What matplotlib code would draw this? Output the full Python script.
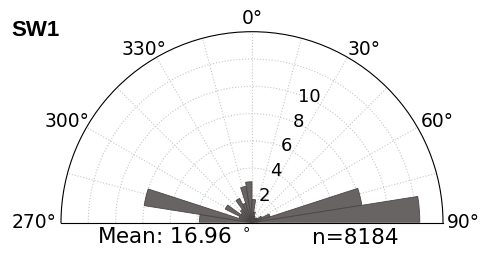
import numpy as np
import matplotlib
matplotlib.use("Agg")
import matplotlib.pyplot as plt

# rose diagram, 9 degree bins (start angle, compass degrees)
bin_start = [270, 279, 288, 297, 306, 315, 324, 333, 342, 351,
             0, 9, 18, 27, 36, 45, 54, 63, 72, 81]
counts = [3.85, 8.0, 1.0, 2.2, 1.0, 1.2, 2.0, 1.5, 2.7, 3.0,
          1.7, 0.8, 0.5, 0.4, 0.4, 0.5, 0.8, 1.4, 8.15, 12.3]
bin_width = 9
r_ticks = [2, 4, 6, 8, 10, 12]
r_labels = ['2', '4', '6', '8', '10']
theta_grid = [270, 285, 300, 315, 330, 345, 0, 15, 30, 45, 60, 75, 90]
theta_lbl = ['0°', '30°', '60°', '90°', '330°', '300°', '270°']
# where each label sits (angle, radius) just outside the rim
lbl_ang = [0, 33, 61.4, 90, -32, -61.4, -90]
lbl_r = [14.95, 15.1, 15.45, 15.5, 14.95, 15.45, 16.0]
title = "SW1"
mean_txt = "Mean: 16.96 $^\\circ$"
n_txt = "n=8184"

fig = plt.figure(figsize=(4.83, 2.58), dpi=100)
# half disc sits in a square box, centre at 1/4 height
R = 191
cx, cy = 252, 258 - 222.7
ax = fig.add_axes([(cx - R)/483, (cy - 0.5*R)/258, 2*R/483, 2*R/258],
                  projection='polar')
ax.set_theta_zero_location('N')
ax.set_theta_direction(-1)
ax.set_thetamin(-90)
ax.set_thetamax(90)

theta = np.deg2rad(bin_start)
ax.bar(theta, counts, width=np.deg2rad(bin_width), align='edge',
       color='#696464', edgecolor='#4a4646', linewidth=0.6, zorder=3)

ax.set_ylim(0, 14)
ax.set_rgrids(r_ticks, [''] * len(r_ticks))
for v, s in zip(r_ticks, r_labels):
    ax.text(np.deg2rad(24.5), v + 0.15, s, fontsize=13, ha='center',
            va='center', zorder=5)

tt = [t if t <= 90 else t - 360 for t in theta_grid]
ax.set_thetagrids(tt, [''] * len(tt))
for a, r, s in zip(lbl_ang, lbl_r, theta_lbl):
    ax.text(np.deg2rad(a), r, s, fontsize=13.5, ha='center', va='center')

ax.grid(True, color='#c8c8c8', linestyle=':', linewidth=0.8)
ax.spines['polar'].set_linewidth(0.8)
ax.spines['start'].set_linewidth(0.8)
ax.spines['end'].set_linewidth(0.8)
ax.spines['inner'].set_visible(False)

fig.text(11/483, 1 - 30/258, title, fontsize=16, fontweight='bold',
         family='Liberation Sans', va='center', ha='left')
fig.text(174/483, 1 - 238/258, mean_txt, fontsize=15.5, ha='center', va='center')
fig.text(355/483, 1 - 238/258, n_txt, fontsize=15.5, ha='center', va='center')

fig.savefig('out.png', dpi=100)
